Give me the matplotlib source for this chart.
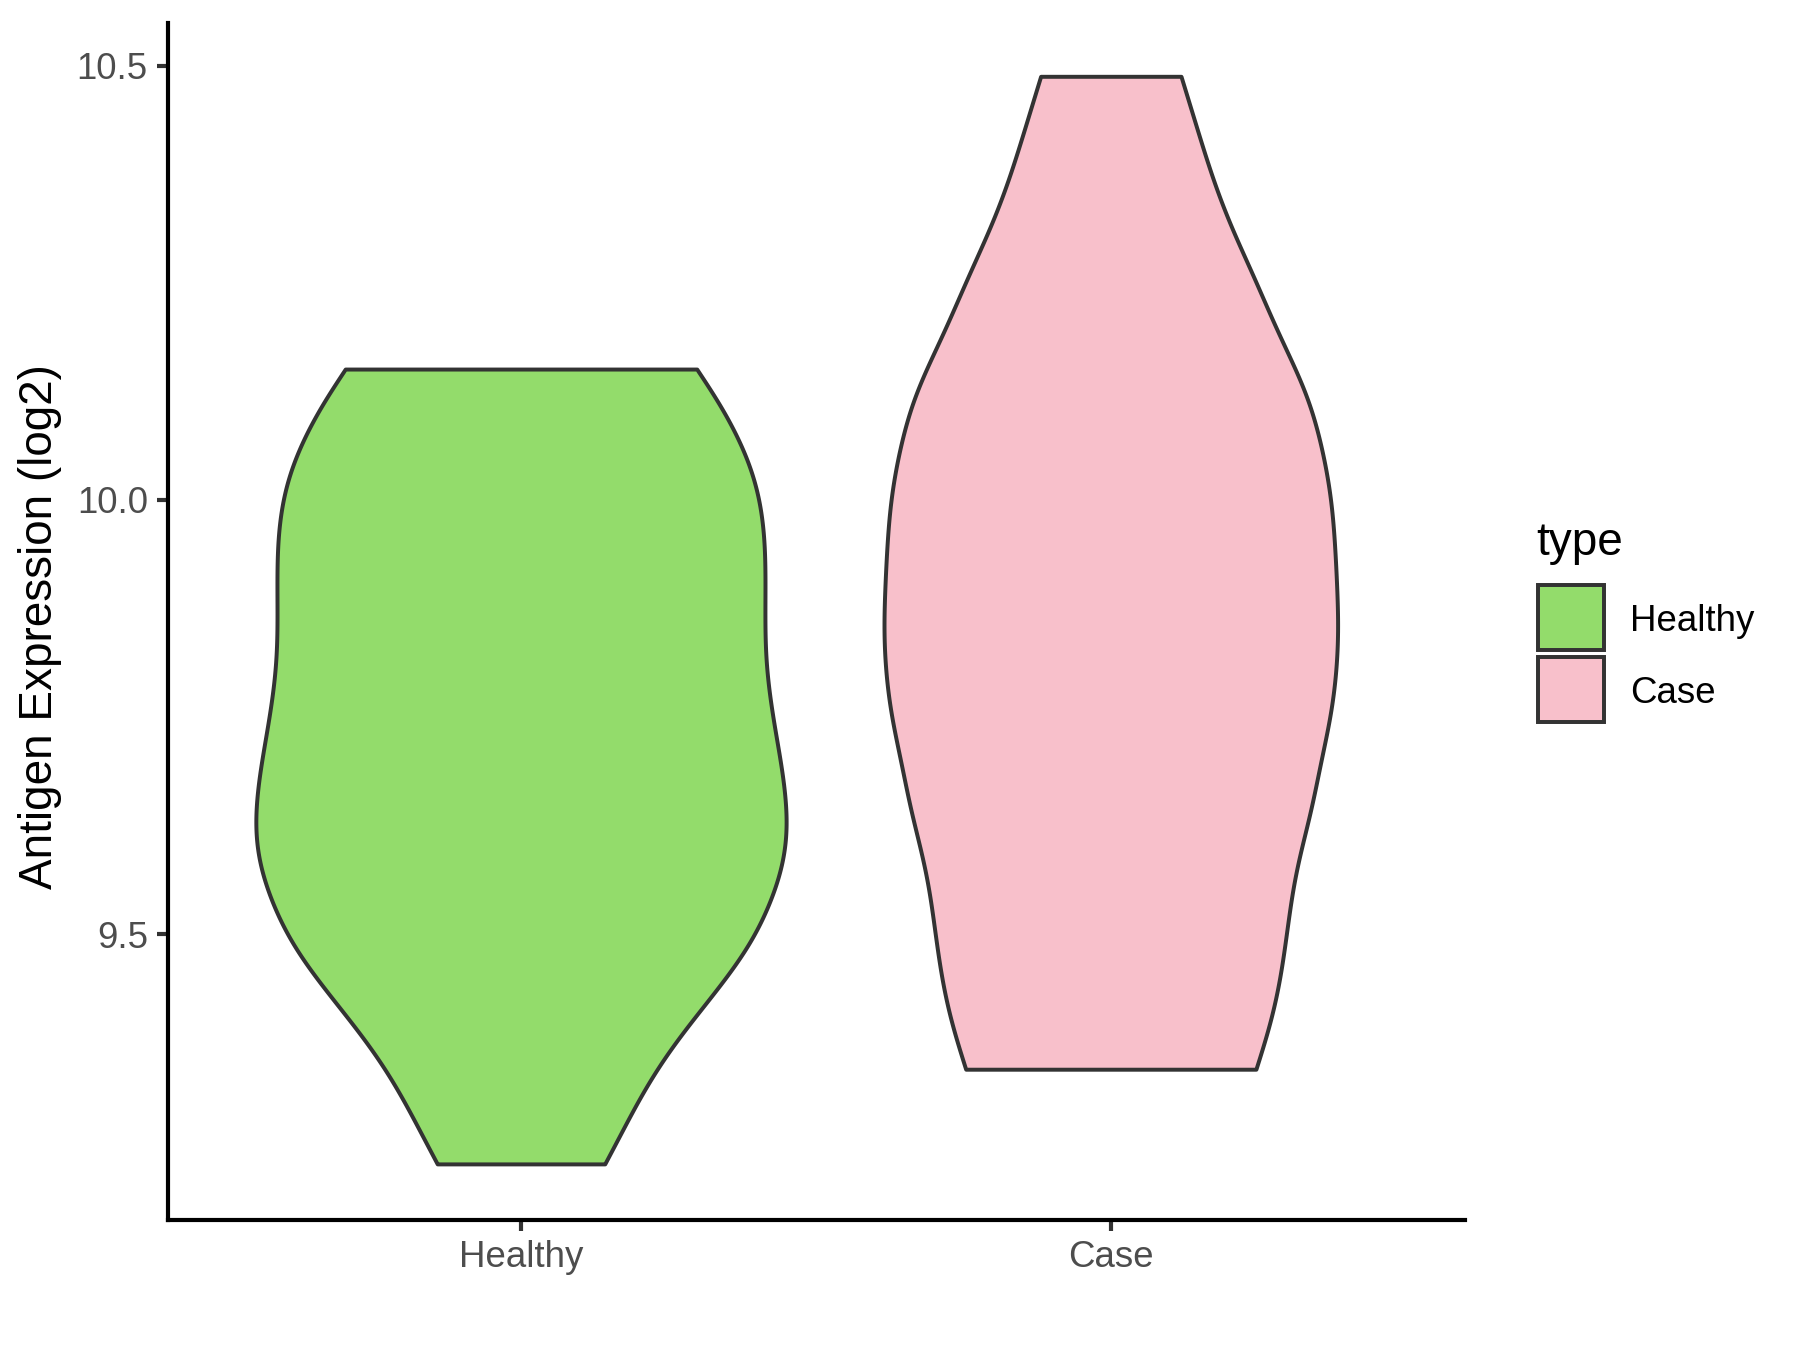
import numpy as np
import matplotlib
matplotlib.use("Agg")
import matplotlib.pyplot as plt
from matplotlib.patches import Rectangle

plt.rcParams['font.family'] = ['Liberation Sans', 'DejaVu Sans']

groups = ["Healthy", "Case"]
colors = ["#93DC6B", "#F8C0CB"]

# violin outlines: y value and half width (x units)
healthy_y = [10.150, 10.115, 10.073, 10.034, 9.996, 9.950, 9.900, 9.852, 9.812,
             9.774, 9.735, 9.697, 9.659, 9.620, 9.582, 9.542, 9.494, 9.451,
             9.413, 9.375, 9.336, 9.294, 9.256, 9.235]
healthy_w = [0.298, 0.334, 0.368, 0.393, 0.407, 0.414, 0.414, 0.413, 0.414,
             0.421, 0.430, 0.441, 0.449, 0.453, 0.447, 0.427, 0.396, 0.351,
             0.305, 0.260, 0.221, 0.187, 0.159, 0.142]

case_y = [10.487, 10.456, 10.418, 10.380, 10.341, 10.300, 10.261, 10.220, 10.180,
          10.142, 10.104, 10.065, 10.027, 9.988, 9.932, 9.854, 9.816, 9.778,
          9.739, 9.701, 9.644, 9.605, 9.566, 9.528, 9.490, 9.451, 9.413, 9.379,
          9.344]
case_w = [0.119, 0.133, 0.150, 0.167, 0.187, 0.212, 0.240, 0.265, 0.291,
          0.320, 0.342, 0.356, 0.368, 0.376, 0.381, 0.386, 0.384, 0.379,
          0.370, 0.356, 0.341, 0.325, 0.311, 0.303, 0.296, 0.288, 0.277, 0.263,
          0.246]

outlines = [(healthy_y, healthy_w), (case_y, case_w)]


def smooth_edge(ys, ws, sigma=0.03):
    # resample the read edge and blur it a little so the drawn line is smooth
    ys = np.asarray(ys)[::-1]
    ws = np.asarray(ws)[::-1]
    g = np.linspace(ys[0], ys[-1], 400)
    w = np.interp(g, ys, ws)
    step = g[1] - g[0]
    k = np.arange(-int(3 * sigma / step), int(3 * sigma / step) + 1) * step
    ker = np.exp(-0.5 * (k / sigma) ** 2)
    ker /= ker.sum()
    pad = len(k) // 2
    wp = np.concatenate([2 * w[0] - w[pad:0:-1], w, 2 * w[-1] - w[-2:-pad - 2:-1]])
    ws2 = np.convolve(wp, ker, mode="valid")
    return g, ws2


fig = plt.figure(figsize=(12, 9), dpi=150)
ax = fig.add_axes([0.0931, 0.0963, 0.7209, 0.8867])

for i, (ys, ws) in enumerate(outlines):
    y, w = smooth_edge(ys, ws)
    xs = np.concatenate([i + 1 - w, (i + 1 + w)[::-1]])
    yy = np.concatenate([y, y[::-1]])
    ax.fill(xs, yy, facecolor=colors[i], edgecolor="#333333", lw=1.9, joinstyle="round")

ax.set_xlim(0.4, 2.6)
ax.set_ylim(9.171, 10.549)
ax.set_xticks([1, 2])
ax.set_xticklabels(groups)
ax.set_yticks([9.5, 10.0, 10.5])
ax.set_yticklabels(["9.5", "10.0", "10.5"])
for s in ["top", "right"]:
    ax.spines[s].set_visible(False)
for s in ["left", "bottom"]:
    ax.spines[s].set_linewidth(2.0)
    ax.spines[s].set_color("black")
ax.tick_params(length=5.5, width=2.0, color="#333333", labelcolor="#4D4D4D",
               labelsize=17.6, pad=4)

fig.text(0.022, 0.536, "Antigen Expression (log2)", rotation=90, ha="center",
         va="center", fontsize=22, color="black")

# legend
fig.text(0.8533, 0.598, "type", fontsize=22, ha="left", va="center")
for k, (lab, c) in enumerate(zip(groups, colors)):
    yb = 0.5185 - k * 0.0533
    fig.add_artist(Rectangle((0.8544, yb), 0.0367, 0.0481, transform=fig.transFigure,
                             facecolor=c, edgecolor="#333333", lw=1.9))
    fig.text(0.9056, yb + 0.021, lab, fontsize=17.6, ha="left", va="center")

fig.savefig("out.png", dpi=150)
